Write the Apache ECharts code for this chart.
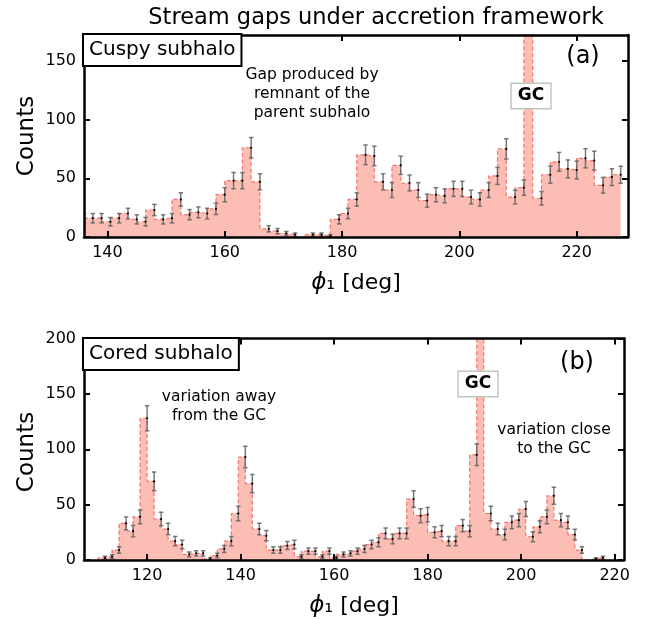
<!DOCTYPE html>
<html>
<head>
<meta charset="utf-8">
<script src="https://cdn.jsdelivr.net/npm/echarts@6/dist/echarts.min.js"></script>
<style>
  html, body { margin: 0; padding: 0; background: #fff; }
  #chart { width: 648px; height: 619px; }
</style>
</head>
<body>
<div id="chart"></div>
<script>
// histogram bins are 1.5 deg wide, drawn matplotlib step 'pre' style
const binWidth = 1.5

// (a) cuspy subhalo
const cuspyStart = 136
const cuspyCounts = [
  16, 16, 16, 13, 16, 20, 15, 13, 23, 15,
  16, 32, 19, 21, 20, 24, 36, 48, 48, 76,
  47, 7, 5, 3, 2, 0, 2, 2, 1, 15,
  20, 32, 70, 69, 47, 40, 61, 46, 40, 31,
  36, 35, 41, 41, 34, 32, 40, 52, 75, 34,
  42, 500, 33, 53, 64, 58, 57, 67, 65, 44,
  51, 53
]

// (b) cored subhalo
const coredStart = 109.5
const coredCounts = [
  0, 2, 3, 9, 33, 26, 39, 128, 71, 37,
  28, 17, 14, 5, 6, 6, 1, 4, 10, 17,
  42, 93, 69, 28, 22, 9, 9, 13, 14, 3,
  8, 8, 3, 8, 2, 5, 6, 8, 10, 14,
  16, 24, 19, 24, 24, 55, 40, 41, 25, 26,
  17, 17, 31, 26, 95, 500, 42, 28, 23, 34,
  36, 46, 21, 30, 39, 58, 36, 34, 23, 9,
  0, 1, 2, 0
]

const xTicksA = [140, 160, 180, 200, 220]
const yTicksA = [0, 50, 100, 150]
const xTicksB = [120, 140, 160, 180, 200, 220]
const yTicksB = [0, 50, 100, 150, 200]

const FONT = 'DejaVu Sans'

const toPoints = (start, counts) => counts.map((c, i) => [start + i * binWidth, c])
const pointsA = toPoints(cuspyStart, cuspyCounts)
const pointsB = toPoints(coredStart, coredCounts)

const chart = echarts.init(document.getElementById('chart'), null, { renderer: 'canvas' })

// axes: bottom/left carry labels, top/right only inward ticks (closed frame)
const makeX = (grid, min, max, ticks, pos) => ({
  type: 'value', gridIndex: grid, min: min, max: max, position: pos, z: 10,
  axisLine: { show: true, onZero: false, lineStyle: { color: '#000', width: 2.5 } },
  axisTick: { show: true, inside: true, length: 6, customValues: ticks, lineStyle: { color: '#000', width: 2 } },
  axisLabel: { show: pos === 'bottom', customValues: ticks, margin: 8, fontSize: 16, color: '#000', fontFamily: FONT },
  splitLine: { show: false },
  name: pos === 'bottom' ? '{i|ϕ}{n|₁ [deg]}' : '',
  nameLocation: 'middle', nameGap: 35,
  nameTextStyle: {
    rich: {
      i: { fontSize: 23, fontStyle: 'italic', fontFamily: FONT, color: '#000' },
      n: { fontSize: 22, fontFamily: FONT, color: '#000' }
    }
  }
})

const makeY = (grid, max, ticks, pos) => ({
  type: 'value', gridIndex: grid, min: 0, max: max, position: pos, z: 10,
  axisLine: { show: true, onZero: false, lineStyle: { color: '#000', width: 2.5 } },
  axisTick: { show: true, inside: true, length: 6, customValues: ticks, lineStyle: { color: '#000', width: 2 } },
  axisLabel: { show: pos === 'left', customValues: ticks, margin: 8, fontSize: 16, color: '#000', fontFamily: FONT },
  splitLine: { show: false }
})

const histSeries = (idx, points) => ({
  type: 'line', xAxisIndex: idx, yAxisIndex: idx, step: 'start',
  data: points, symbol: 'none', silent: true, z: 2,
  lineStyle: { color: 'rgba(240,100,88,0.85)', width: 1.2, type: [4, 2.5] },
  areaStyle: { color: 'rgba(250,128,114,0.52)', opacity: 1, origin: 'start' }
})

const errSeries = (idx, points) => ({
  type: 'custom', xAxisIndex: idx, yAxisIndex: idx, clip: true, z: 4, silent: true,
  encode: { x: 0, y: 1 },
  data: points.filter(p => p[1] > 0).map(p => [p[0], p[1], Math.sqrt(p[1])]),
  renderItem: (params, api) => {
    const x = api.value(0), y = api.value(1), e = api.value(2)
    const lo = api.coord([x, y - e])
    const hi = api.coord([x, y + e])
    const c = api.coord([x, y])
    const cap = 2.2
    const st = { stroke: 'rgba(100,100,100,0.85)', lineWidth: 1.5 }
    return {
      type: 'group',
      children: [
        { type: 'line', shape: { x1: lo[0], y1: lo[1], x2: hi[0], y2: hi[1] }, style: st },
        { type: 'line', shape: { x1: lo[0] - cap, y1: lo[1], x2: lo[0] + cap, y2: lo[1] }, style: st },
        { type: 'line', shape: { x1: hi[0] - cap, y1: hi[1], x2: hi[0] + cap, y2: hi[1] }, style: st },
        { type: 'circle', shape: { cx: c[0], cy: c[1], r: 1.1 }, style: { fill: '#000' } }
      ]
    }
  }
})

const label = (text, x, y, size, extra, rot) => ({
  type: 'text', x: x, y: y, z: 20, rotation: rot || 0,
  style: Object.assign({
    text: text, fontSize: size, fontFamily: FONT, fill: '#000',
    textAlign: 'center', textVerticalAlign: 'middle'
  }, extra || {})
})

const boxStyle = { backgroundColor: '#fff', borderColor: '#000', borderWidth: 2, padding: [5, 5, 5, 5], textAlign: 'left', textVerticalAlign: 'top' }
const gcStyle = { backgroundColor: '#fff', borderColor: '#c4c4c4', borderWidth: 1.5, padding: [4, 6, 3, 6], fontWeight: 'bold' }

const option = {
  animation: false,
  backgroundColor: '#fff',
  grid: [
    { left: 84, top: 35, width: 544, height: 202 },
    { left: 84, top: 338.5, width: 540, height: 227 }
  ],
  xAxis: [
    makeX(0, 136, 228.75, xTicksA, 'bottom'),
    makeX(0, 136, 228.75, xTicksA, 'top'),
    makeX(1, 106.5, 222, xTicksB, 'bottom'),
    makeX(1, 106.5, 222, xTicksB, 'top')
  ],
  yAxis: [
    makeY(0, 172, yTicksA, 'left'),
    makeY(0, 172, yTicksA, 'right'),
    makeY(1, 200, yTicksB, 'left'),
    makeY(1, 200, yTicksB, 'right')
  ],
  series: [
    histSeries(0, pointsA),
    errSeries(0, pointsA),
    histSeries(2, pointsB),
    errSeries(2, pointsB)
  ],
  graphic: [
    label('Stream gaps under accretion framework', 376, 18, 22.5),
    label('Counts', 27, 136, 23, null, Math.PI / 2),
    label('Counts', 27, 452, 23, null, Math.PI / 2),
    label('Cuspy subhalo', 84, 35, 20, boxStyle),
    label('Cored subhalo', 84, 339, 20, boxStyle),
    label('(a)', 583, 57, 24),
    label('(b)', 577, 363, 24),
    label('Gap produced by\nremnant of the\nparent subhalo', 312, 94, 15.5, { lineHeight: 19 }),
    label('variation away\nfrom the GC', 219, 406, 15.5, { lineHeight: 19 }),
    label('variation close\nto the GC', 554, 439, 15.5, { lineHeight: 19 }),
    label('GC', 531, 96, 17, gcStyle),
    label('GC', 478, 384, 17, gcStyle)
  ]
}

chart.setOption(option)
</script>
</body>
</html>
